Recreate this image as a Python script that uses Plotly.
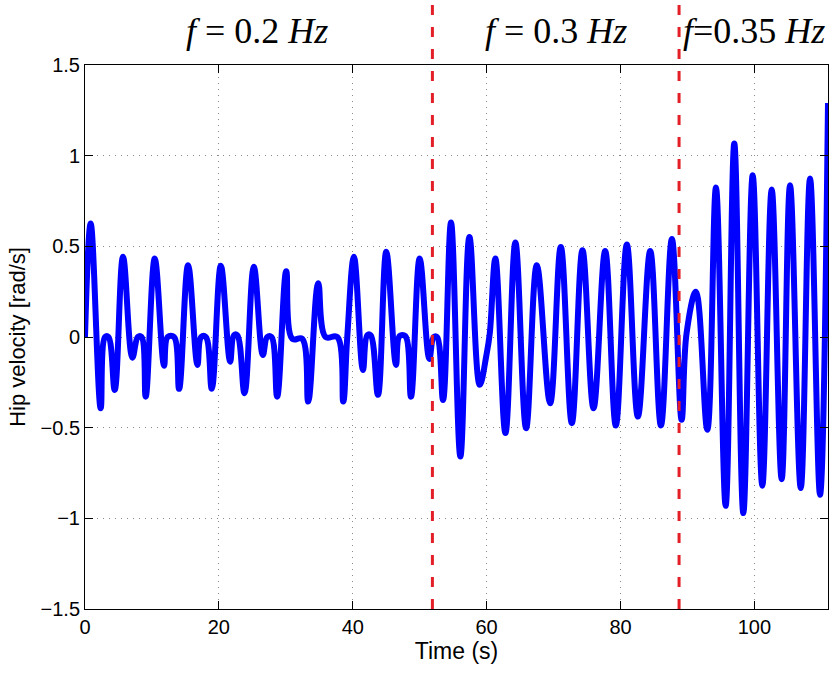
import plotly.graph_objects as go

# Key points of the hip velocity trace (time in s, velocity in rad/s)
time_s = [0.0, 0.85, 2.34, 3.0, 3.5, 4.44, 5.68, 7.08, 7.9, 8.45, 9.07, 10.42, 11.81, 12.35, 13.3,
          14.06, 15.40, 16.8, 17.35, 18.05, 18.94, 20.29, 21.68, 22.25, 22.75, 23.83, 25.22, 26.57,
          27.22, 27.86, 28.71, 30.06, 30.96, 32.45, 33.35, 34.84, 35.94, 37.69, 38.58, 39.18, 40.18,
          41.52, 42.17, 42.67, 43.77, 45.01, 46.46, 47.0, 47.85, 48.7, 50.0, 51.44, 52.09, 52.59,
          53.49, 54.68, 56.08, 57.43, 58.97, 59.97, 60.47, 61.31, 62.81, 64.3, 65.9, 67.5, 69.49,
          71.08, 72.73, 74.32, 75.97, 77.71, 79.3, 80.95, 82.6, 84.44, 86.04, 87.68, 89.13, 89.87,
          91.27, 92.97, 94.26, 95.71, 97.0, 98.35, 99.75, 101.19, 102.59, 104.08, 105.33, 106.93,
          108.32, 109.81, 111.0]
hip_vel = [0.0, 0.626, -0.393, 0.0, 0.0, -0.292, 0.442, -0.114, 0.0, 0.0, -0.329, 0.433, -0.158, 0.0, 0.0,
           -0.286, 0.396, -0.154, 0.0, 0.0, -0.286, 0.393, -0.136, 0.01, 0.01, -0.31, 0.387, -0.099,
           0.0, 0.0, -0.329, 0.363, -0.01, -0.01, -0.356, 0.296, 0.0, 0.0, -0.356, 0.0, 0.442,
           -0.182, 0.01, 0.01, -0.319, 0.47, -0.154, 0.005, 0.005, -0.329, 0.433, -0.121, 0.0, 0.0,
           -0.347, 0.631, -0.659, 0.552, -0.264, -0.1, 0.02, 0.433, -0.53, 0.521, -0.503, 0.396, -0.365,
           0.497, -0.475, 0.479, -0.393, 0.474, -0.488, 0.51, -0.439, 0.474, -0.488, 0.54, -0.457, 0.02,
           0.25, -0.512, 0.824, -0.931, 1.067, -0.971, 0.892, -0.82, 0.813, -0.784, 0.837, -0.833,
           0.874, -0.87, 1.29]

# Frequency change instants (s) and labels
change_times = [51.9, 88.75]
freq_label_x = [25.7, 70.3, 100.0]
freq_labels = ["<i>f</i> = 0.2 <i>Hz</i>", "<i>f</i> = 0.3 <i>Hz</i>", "<i>f</i>=0.35 <i>Hz</i>"]

x_ticks = [0, 20, 40, 60, 80, 100]
y_ticks = [-1.5, -1, -0.5, 0, 0.5, 1, 1.5]
y_tick_text = ["\u22121.5", "\u22121", "\u22120.5", "0", "0.5", "1", "1.5"]

fig = go.Figure()
fig.add_trace(go.Scatter(
    x=time_s, y=hip_vel, mode="lines",
    line=dict(color="#0000ff", width=6, shape="spline", smoothing=1.1),
    showlegend=False, hoverinfo="skip"))

for t in change_times:
    fig.add_shape(type="line", xref="x", yref="paper", x0=t, x1=t, y0=0, y1=1.12,
                  line=dict(color="#e41e26", width=3, dash="10px,12px"), layer="above")

for xl, txt in zip(freq_label_x, freq_labels):
    fig.add_annotation(x=xl, xref="x", y=1.062, yref="paper", text=txt, showarrow=False,
                       xanchor="center", yanchor="middle",
                       font=dict(family="Liberation Serif", size=36, color="black"))

axis_common = dict(
    showline=True, linecolor="black", linewidth=1, mirror="allticks",
    ticks="inside", ticklen=8, tickcolor="black", tickwidth=1,
    showgrid=True, gridcolor="#8a8a8a", griddash="1px,5px", gridwidth=1,
    zeroline=False, automargin=False,
    tickfont=dict(family="Liberation Sans", size=20, color="black"),
)

fig.update_layout(
    width=830, height=673,
    margin=dict(l=85, r=2, t=65, b=64),
    paper_bgcolor="white", plot_bgcolor="white",
    xaxis=dict(range=[0, 111], tickvals=x_ticks,
               title=dict(text="Time (s)", standoff=5,
                          font=dict(family="Liberation Sans", size=23, color="black")),
               **axis_common),
    yaxis=dict(range=[-1.5, 1.5], tickvals=y_ticks, ticktext=y_tick_text,
               title=dict(text="Hip velocity [rad/s]", standoff=8,
                          font=dict(family="Liberation Sans", size=22, color="black")),
               **axis_common),
)

fig.write_html("out.html", config={"displayModeBar": False},
               post_script="document.body.style.margin='0';")
